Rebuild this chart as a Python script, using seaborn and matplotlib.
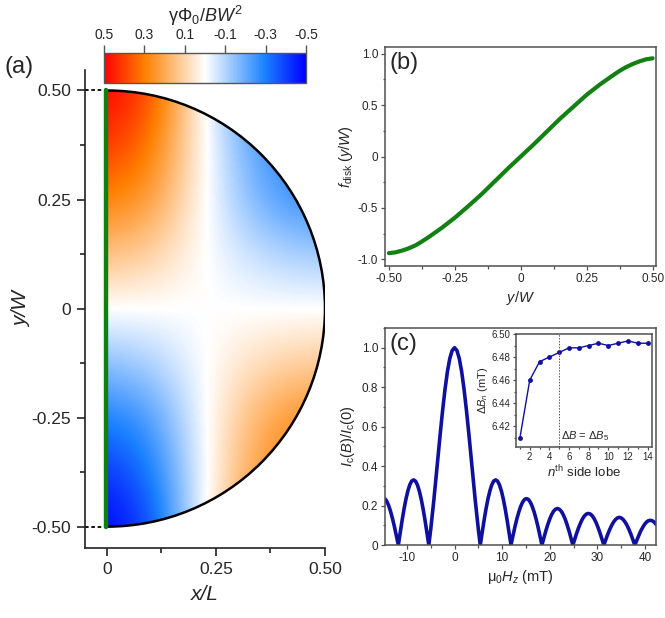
import matplotlib
matplotlib.use("Agg")
import matplotlib.pyplot as plt
import seaborn as sns
import numpy as np
from matplotlib.colors import LinearSegmentedColormap
from matplotlib.patches import Wedge, Arc
from matplotlib.ticker import MultipleLocator, FixedLocator, FixedFormatter

# ---- data ----
# (a) phase field gamma*Phi0/(B W^2), upper half (lower half is antisymmetric)
field_x = [0.0, 0.1, 0.2, 0.3, 0.4, 0.5]
field_y_upper = [0.0, 0.125, 0.25, 0.375, 0.5]
gamma_upper = [
    [0.00, 0.00, 0.00, 0.00, 0.00, 0.00],
    [0.15, 0.11, 0.02, -0.05, -0.10, -0.12],
    [0.30, 0.24, 0.05, -0.12, -0.24, -0.27],
    [0.42, 0.32, 0.07, -0.15, -0.28, -0.32],
    [0.50, 0.40, 0.07, -0.20, -0.35, -0.40],
]

# (b) f_disk(y/W)
fb_y = [-0.5, -0.475, -0.45, -0.425, -0.4, -0.375, -0.35, -0.3, -0.25, -0.2, -0.15, -0.1, -0.05, 0.0,
        0.05, 0.1, 0.15, 0.2, 0.25, 0.3, 0.35, 0.375, 0.4, 0.425, 0.45, 0.475, 0.5]
fb_f = [-0.940, -0.932, -0.915, -0.893, -0.865, -0.827, -0.785, -0.695, -0.595, -0.485, -0.37, -0.245,
        -0.12, 0.0, 0.12, 0.245, 0.37, 0.485, 0.60, 0.70, 0.79, 0.833, 0.87, 0.90, 0.925, 0.945, 0.955]

# (c) Ic(B)/Ic(0) vs mu0 Hz (mT), lobe by lobe
h_left2 = [-14.6, -14.25, -13.85, -13.45, -13.05, -12.65, -12.25]
i_left2 = [0.234, 0.223, 0.201, 0.172, 0.136, 0.096, 0.052]
h_left1 = [-11.8, -11.4, -11.0, -10.6, -10.2, -9.8, -9.4, -9.0, -8.6, -8.2, -7.8, -7.4, -7.0, -6.6, -6.2, -5.8]
i_left1 = [0.0, 0.064, 0.126, 0.183, 0.233, 0.274, 0.305, 0.324, 0.33, 0.324, 0.305, 0.274, 0.233, 0.183, 0.126, 0.064]
h_main = [-5.4, -5.0, -4.35, -4.0, -3.5, -3.0, -2.5, -2.0, -1.5, -1.0, -0.5, 0.0,
          0.5, 1.0, 1.5, 2.0, 2.5, 3.0, 3.5, 4.0, 4.35, 5.0]
i_main = [0.0, 0.079, 0.226, 0.312, 0.439, 0.565, 0.683, 0.789, 0.878, 0.945, 0.986, 1.0,
          0.986, 0.945, 0.878, 0.789, 0.683, 0.565, 0.439, 0.312, 0.226, 0.079]
h_right1 = [5.4, 5.80, 6.21, 6.61, 7.01, 7.42, 7.82, 8.22, 8.63, 9.03, 9.43, 9.84, 10.24, 10.64, 11.04, 11.45]
i_right1 = [0.0, 0.064, 0.126, 0.183, 0.233, 0.274, 0.305, 0.324, 0.33, 0.324, 0.305, 0.274, 0.233, 0.183, 0.126, 0.064]
h_right2 = [11.85, 12.26, 12.66, 13.07, 13.48, 13.88, 14.29, 14.69, 15.1, 15.51, 15.91, 16.32, 16.73, 17.13, 17.54, 17.94]
i_right2 = [0.0, 0.046, 0.09, 0.131, 0.166, 0.195, 0.217, 0.231, 0.235, 0.231, 0.217, 0.195, 0.166, 0.131, 0.09, 0.046]
h_right3 = [18.35, 18.76, 19.16, 19.57, 19.98, 20.38, 20.79, 21.19, 21.6, 22.01, 22.41, 22.82, 23.23, 23.63, 24.04, 24.44]
i_right3 = [0.0, 0.036, 0.071, 0.103, 0.131, 0.154, 0.171, 0.181, 0.185, 0.181, 0.171, 0.154, 0.131, 0.103, 0.071, 0.036]
h_right4 = [24.85, 25.26, 25.66, 26.07, 26.48, 26.88, 27.29, 27.69, 28.1, 28.51, 28.91, 29.32, 29.73, 30.13, 30.54, 30.94]
i_right4 = [0.0, 0.031, 0.061, 0.089, 0.113, 0.133, 0.148, 0.157, 0.16, 0.157, 0.148, 0.133, 0.113, 0.089, 0.061, 0.031]
h_right5 = [31.35, 31.76, 32.16, 32.57, 32.98, 33.38, 33.79, 34.19, 34.6, 35.01, 35.41, 35.82, 36.23, 36.63, 37.04, 37.44]
i_right5 = [0.0, 0.027, 0.054, 0.078, 0.099, 0.116, 0.129, 0.137, 0.14, 0.137, 0.129, 0.116, 0.099, 0.078, 0.054, 0.027]
h_right6 = [37.85, 38.26, 38.66, 39.07, 39.48, 39.88, 40.29, 40.69, 41.1, 41.51, 41.91, 42.3]
i_right6 = [0.0, 0.024, 0.048, 0.07, 0.088, 0.104, 0.116, 0.123, 0.125, 0.123, 0.116, 0.105]

# inset: Delta B_n vs side lobe n
lobe_n = list(range(1, 15))
delta_b = [6.410, 6.460, 6.476, 6.480, 6.484, 6.488, 6.488, 6.490, 6.492, 6.490,
           6.492, 6.494, 6.492, 6.492]

# ---- style ----
sns.set_theme(style="ticks")
plt.rcParams['font.family'] = ['Liberation Sans', 'DejaVu Sans']
plt.rcParams['mathtext.fontset'] = 'custom'
plt.rcParams['mathtext.rm'] = 'Liberation Sans'
plt.rcParams['mathtext.it'] = 'Liberation Sans:italic'
plt.rcParams['mathtext.bf'] = 'Liberation Sans:bold'

W, H = 665, 618
fig = plt.figure(figsize=(6.65, 6.18), dpi=100)


def box(l, t, r, b):
    return [l / W, (H - b) / H, (r - l) / W, (b - t) / H]


ax_a = fig.add_axes(box(85, 70, 325, 548))
cax = fig.add_axes(box(104, 53, 306, 83))
ax_b = fig.add_axes(box(385, 47, 656, 266))
ax_c = fig.add_axes(box(385, 328, 656, 545))
ax_in = fig.add_axes(box(516, 334, 652, 447))

# ---- (a) ----
cmap = LinearSegmentedColormap.from_list(
    "phase", [(0.0, "#0000FF"), (0.2, "#1A80FF"), (0.5, "#FFFFFF"), (0.8, "#FF8000"), (1.0, "#FF0000")])
upper = np.array(gamma_upper)
full = np.vstack([-upper[:0:-1], upper])
dx = 0.05
dy = 0.0625
im = ax_a.imshow(full, origin='lower', cmap=cmap, vmin=-0.5, vmax=0.5, interpolation='bicubic',
                 extent=[field_x[0] - dx, field_x[-1] + dx, -0.5 - dy, 0.5 + dy], aspect='auto', zorder=1)
clip = Wedge((0, 0), 0.5, -90, 90, transform=ax_a.transData, facecolor='none', edgecolor='none')
ax_a.add_patch(clip)
im.set_clip_path(clip)
ax_a.add_patch(Arc((0, 0), 1.0, 1.0, theta1=-90, theta2=90, color='black', lw=1.8, zorder=3))
ax_a.plot([-0.002, -0.002], [-0.5, 0.5], color='#118011', lw=3.2, zorder=4)
ax_a.plot([-0.05, 0.0], [0.5, 0.5], color='black', ls=(0, (2, 1.5)), lw=1.3)
ax_a.plot([-0.05, 0.0], [-0.5, -0.5], color='black', ls=(0, (2, 1.5)), lw=1.3)
ax_a.set_xlim(-0.05, 0.5)
ax_a.set_ylim(-0.549, 0.547)
sns.despine(ax=ax_a)
for s in ['left', 'bottom']:
    ax_a.spines[s].set_linewidth(1.2)
    ax_a.spines[s].set_color('#222222')
ax_a.xaxis.set_major_locator(FixedLocator([0, 0.25, 0.5]))
ax_a.xaxis.set_major_formatter(FixedFormatter(['0', '0.25', '0.50']))
ax_a.xaxis.set_minor_locator(FixedLocator([0.125, 0.375]))
ax_a.yaxis.set_major_locator(FixedLocator([-0.5, -0.25, 0, 0.25, 0.5]))
ax_a.yaxis.set_major_formatter(FixedFormatter(['-0.50', '-0.25', '0', '0.25', '0.50']))
ax_a.yaxis.set_minor_locator(FixedLocator([-0.375, -0.125, 0.125, 0.375]))
ax_a.tick_params(which='major', length=6, width=1.2, labelsize=12.5, color='#222222', pad=4)
ax_a.tick_params(which='minor', length=3.3, width=1.2, color='#222222')
ax_a.set_xlabel('x/L', fontsize=15, fontstyle='italic', labelpad=6)
ax_a.set_ylabel('y/W', fontsize=15, fontstyle='italic')
ax_a.yaxis.set_label_coords(-0.225, 0.5)
fig.text(5 / W, 1 - 67 / H, '(a)', fontsize=17, va='center', ha='left')

cb = fig.colorbar(im, cax=cax, orientation='horizontal')
cax.invert_xaxis()
cb.set_ticks([0.5, 0.3, 0.1, -0.1, -0.3, -0.5])
cb.set_ticklabels(['0.5', '0.3', '0.1', '-0.1', '-0.3', '-0.5'])
cax.xaxis.set_ticks_position('top')
cax.xaxis.set_label_position('top')
cax.tick_params(length=5.8, width=1, labelsize=10, color='#555555', pad=2)
cb.outline.set_edgecolor('#555555')
cb.outline.set_linewidth(1)
cax.minorticks_off()
fig.text(205 / W, 1 - 16 / H, 'γΦ$_0$/$BW^2$', fontsize=13, ha='center', va='center')

# ---- common box style ----
def origin_style(ax):
    for s in ax.spines.values():
        s.set_visible(True)
        s.set_color('#505050')
        s.set_linewidth(1.1)
    ax.tick_params(which='both', direction='out', color='#505050', width=0.9)
    ax.tick_params(which='major', length=3, labelsize=8.5, pad=2)
    ax.tick_params(which='minor', length=1.8)


# ---- (b) ----
sns.lineplot(x=fb_y, y=fb_f, ax=ax_b, color='#138013', lw=3.0)
ax_b.set_xlim(-0.515, 0.513)
ax_b.set_ylim(-1.065, 1.065)
origin_style(ax_b)
ax_b.xaxis.set_major_locator(FixedLocator([-0.5, -0.25, 0, 0.25, 0.5]))
ax_b.xaxis.set_major_formatter(FixedFormatter(['-0.50', '-0.25', '0', '0.25', '0.50']))
ax_b.xaxis.set_minor_locator(MultipleLocator(0.125))
ax_b.yaxis.set_major_locator(FixedLocator([-1, -0.5, 0, 0.5, 1]))
ax_b.yaxis.set_major_formatter(FixedFormatter(['-1.0', '-0.5', '0', '0.5', '1.0']))
ax_b.yaxis.set_minor_locator(MultipleLocator(0.25))
ax_b.set_xlabel('$y/W$', fontsize=10.5, labelpad=3)
ax_b.set_ylabel('$f_{\\mathrm{disk}}\\ (y/W)$', fontsize=10.5, labelpad=2)
ax_b.text(0.015, 0.975, '(b)', transform=ax_b.transAxes, fontsize=17, va='top', ha='left')

# ---- (c) ----
ic_h = h_left2 + h_left1 + h_main + h_right1 + h_right2 + h_right3 + h_right4 + h_right5 + h_right6
ic_val = i_left2 + i_left1 + i_main + i_right1 + i_right2 + i_right3 + i_right4 + i_right5 + i_right6
sns.lineplot(x=ic_h, y=ic_val, ax=ax_c, color='#10109E', lw=2.6, sort=False)
ax_c.set_xlim(-14.6, 42.3)
ax_c.set_ylim(0, 1.1)
origin_style(ax_c)
ax_c.xaxis.set_major_locator(FixedLocator([-10, 0, 10, 20, 30, 40]))
ax_c.xaxis.set_minor_locator(MultipleLocator(5))
ax_c.yaxis.set_major_locator(FixedLocator([0, 0.2, 0.4, 0.6, 0.8, 1.0]))
ax_c.yaxis.set_major_formatter(FixedFormatter(['0', '0.2', '0.4', '0.6', '0.8', '1.0']))
ax_c.yaxis.set_minor_locator(MultipleLocator(0.1))
ax_c.xaxis.set_major_formatter(FixedFormatter(['-10', '0', '10', '20', '30', '40']))
ax_c.set_xlabel('μ$_0$$H_z$ (mT)', fontsize=10.5, labelpad=3)
ax_c.set_ylabel('$I_{\\mathrm{c}}(B)/I_{\\mathrm{c}}(0)$', fontsize=10.5, labelpad=3)
ax_c.text(0.015, 0.975, '(c)', transform=ax_c.transAxes, fontsize=17, va='top', ha='left')

# ---- inset ----
sns.lineplot(x=lobe_n, y=delta_b, ax=ax_in, color='#10109E', lw=1.0, marker='o',
             markersize=3.5, markeredgewidth=0)
ax_in.axvline(5, color='#555555', lw=0.7, ls=(0, (1.5, 1.5)))
ax_in.set_xlim(0.6, 14.45)
ax_in.set_ylim(6.402, 6.50)
origin_style(ax_in)
ax_in.tick_params(which='major', labelsize=7, length=2.2, pad=1.5)
ax_in.tick_params(which='minor', length=1.3)
ax_in.xaxis.set_major_locator(FixedLocator([2, 4, 6, 8, 10, 12, 14]))
ax_in.xaxis.set_minor_locator(MultipleLocator(1))
ax_in.yaxis.set_major_locator(FixedLocator([6.42, 6.44, 6.46, 6.48, 6.50]))
ax_in.yaxis.set_major_formatter(FixedFormatter(['6.42', '6.44', '6.46', '6.48', '6.50']))
ax_in.yaxis.set_minor_locator(MultipleLocator(0.01))
ax_in.set_xlabel('$n^{\\mathrm{th}}$ side lobe', fontsize=9.5, labelpad=1)
ax_in.set_ylabel('Δ$B_n$ (mT)', fontsize=8, labelpad=1)
ax_in.text(5.15, 6.409, 'Δ$B$ = Δ$B_5$', fontsize=8, ha='left', va='baseline')
ax_in.patch.set_facecolor('white')

fig.savefig('out.png', dpi=100)
